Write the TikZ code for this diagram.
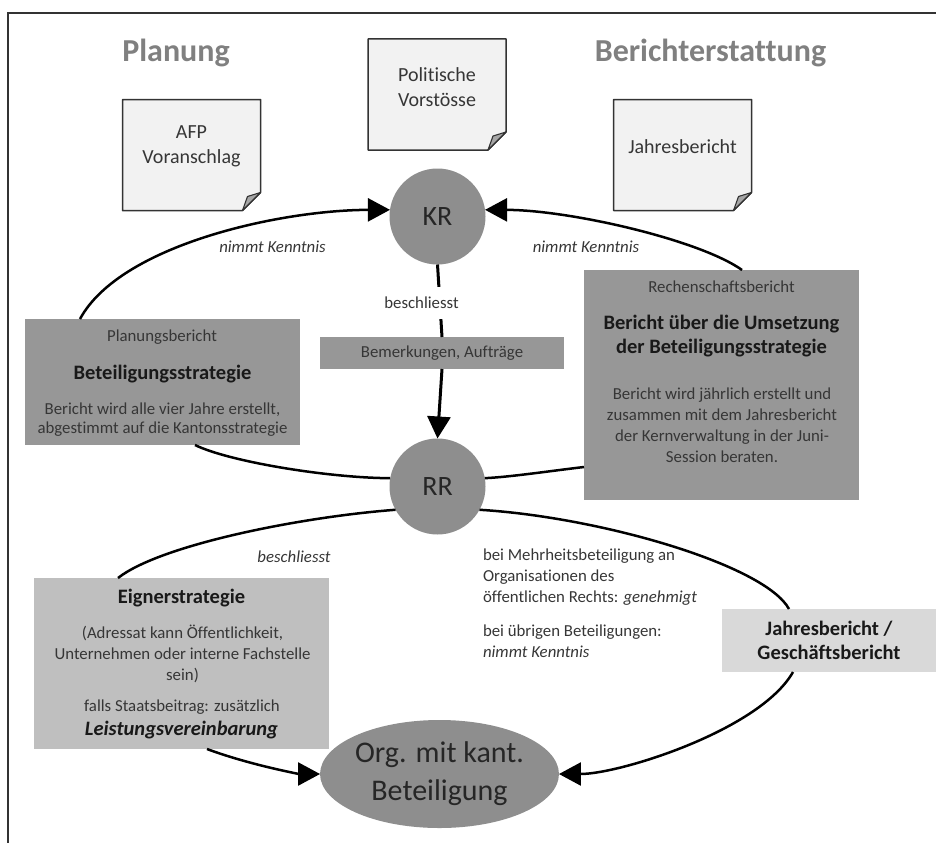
\documentclass[tikz,border=0pt]{standalone}
\usepackage{fontspec}
\setmainfont{Carlito}[Ligatures=NoCommon]
\usetikzlibrary{arrows.meta,shapes.geometric}
\definecolor{circgray}{HTML}{8E8E8E}
\definecolor{boxgray}{HTML}{979797}
\definecolor{eigngray}{HTML}{BFBFBF}
\definecolor{jbgray}{HTML}{D9D9D9}
\definecolor{titlegray}{HTML}{808080}
\definecolor{txtgray}{HTML}{363636}
\definecolor{docfill}{HTML}{F2F2F2}
\definecolor{foldgray}{HTML}{A6A6A6}
\newcommand{\docoutline}[1]{%
  \draw[docline] (#1.north west) -- (#1.north east) -- ([yshift=18pt]#1.south east)
     -- ([xshift=-18pt]#1.south east) -- (#1.south west) -- cycle;
  \draw[foldpart] ([yshift=18pt]#1.south east) -- ([xshift=-18pt]#1.south east)
     -- ([xshift=-13pt,yshift=14pt]#1.south east) -- cycle;}
\begin{document}
\begin{tikzpicture}[x=1pt,y=-1pt,
  every node/.style={inner sep=0pt,outer sep=0pt},
  title/.style={font=\fontsize{32}{38}\selectfont\bfseries,text=titlegray},
  docarea/.style={rectangle,minimum width=138pt,minimum height=111pt},
  doctext/.style={align=center,font=\fontsize{20}{25}\selectfont,text=txtgray},
  docline/.style={draw=black!80,line width=1.5pt,fill=docfill,line join=round},
  foldpart/.style={draw=black!80,line width=1.1pt,fill=foldgray,line join=round},
  circ/.style={circle,fill=circgray,minimum size=96pt,font=\fontsize{28}{32}\selectfont,text=black!85},
  midbox/.style={rectangle,fill=boxgray},
  small/.style={font=\fontsize{16.8}{21}\selectfont,text=txtgray,align=center},
  smallit/.style={font=\fontsize{16.8}{21}\selectfont\itshape,text=txtgray},
  heading/.style={font=\fontsize{20.5}{24}\selectfont\bfseries,text=black!90,align=center},
  conn/.style={line width=2.5pt,black},
  bigtip/.style={-{Triangle[length=22pt,width=23pt]}},
  frameline/.style={draw=black!80,line width=1.5pt}]
\useasboundingbox (0,0) rectangle (936,843);
% frame
\coordinate (ftl) at (8,13);
\coordinate (ftr) at (936,13);
\coordinate (fbl) at (8,843);
\draw[frameline] (ftr) -- (ftl) -- (fbl);
% titles
\node[title] (tplan) at (176,53) {Planung};
\node[title] (tber) at (710.5,53) {Berichterstattung};
% documents
\node[docarea] (pol) at (437,94.5) {};
\node[docarea] (afp) at (191.5,155) {};
\node[docarea] (jbd) at (682.5,155) {};
\docoutline{pol}
\docoutline{afp}
\docoutline{jbd}
\node[doctext] (polt) at (437,87.5) {Politische\\Vorstösse};
\node[doctext] (afpt) at (191.5,146.5) {AFP\\Voranschlag};
\node[doctext] (jbdt) at (682.5,147) {Jahresbericht};
% circles
\node[circ] (kr) at (437.5,216.5) {KR};
\node[circ] (rr) at (437.5,486.5) {RR};
\node[ellipse,fill=circgray,minimum width=204pt,minimum height=108pt,align=center,
      font=\fontsize{30}{38}\selectfont,text=black!85] (org) at (439.5,774) {Org. mit kant.\\Beteiligung};
% boxes
\node[midbox,minimum width=244pt,minimum height=32pt,font=\fontsize{16.8}{21}\selectfont,text=txtgray] (bem) at (442,353) {Bemerkungen, Aufträge};
\node[midbox,minimum width=275pt,minimum height=126pt] (plan) at (162.5,382) {};
\node[small] (planl) at (162,337) {Planungsbericht};
\node[heading] (planh) at (162.5,374) {Beteiligungsstrategie};
\node[small,font=\fontsize{16.8}{19.5}\selectfont] (planb) at (162.5,419.5) {Bericht wird alle vier Jahre erstellt,\\abgestimmt auf die Kantonsstrategie};
\node[midbox,minimum width=275pt,minimum height=230pt] (rech) at (721.5,385) {};
\node[small] (rechl) at (721.5,287) {Rechenschaftsbericht};
\node[heading] (rechh) at (721.5,336) {Bericht über die Umsetzung\\der Beteiligungsstrategie};
\node[small] (rechb) at (722,425) {Bericht wird jährlich erstellt und\\zusammen mit dem Jahresbericht\\der Kernverwaltung in der Juni-\\Session beraten.};
\node[fill=eigngray,minimum width=295pt,minimum height=171pt] (eig) at (181.5,663.5) {};
\node[heading] (eigh) at (181.5,598) {Eignerstrategie};
\node[small] (eigb) at (182.5,654) {(Adressat kann Öffentlichkeit,\\Unternehmen oder interne Fachstelle\\sein)};
\node[small] (eigc) at (182,707) {falls Staatsbeitrag: zusätzlich};
\node[heading,font=\fontsize{20.5}{24}\selectfont\bfseries\itshape] (eigl) at (181.5,730) {Leistungsvereinbarung};
\node[fill=jbgray,minimum width=214pt,minimum height=63pt,heading] (jb) at (829,640.5) {Jahresbericht /\\Geschäftsbericht};
% free texts
\node[smallit] (nkl) at (272.5,247) {nimmt Kenntnis};
\node[smallit] (nkr) at (586,247) {nimmt Kenntnis};
\node[smallit] (besl) at (294,557) {beschliesst};
\node[small,align=left,anchor=west] (mehr) at (483,577) {bei Mehrheitsbeteiligung an\\Organisationen des\\öffentlichen Rechts: \textit{genehmigt}};
\node[small,align=left,anchor=west] (uebr) at (483,641.5) {bei übrigen Beteiligungen:\\\textit{nimmt Kenntnis}};
% connectors
\draw[conn,bigtip] ([xshift=55pt]plan.north west) .. controls (120,245) and (280,210) .. (kr.172);
\draw[conn,bigtip] ([xshift=158pt]rech.north west) .. controls (700,240) and (570,210) .. (kr.8);
\draw[conn] ([xshift=170pt]plan.south west) .. controls (230,462) and (330,478) .. (rr.170);
\draw[conn] ([yshift=33pt]rech.south west) .. controls (550,471) and (510,477) .. (rr.10);
\draw[conn] (rr.209) .. controls (300,517) and (160,545) .. ([xshift=84pt]eig.north west);
\draw[conn] (rr.331) .. controls (600,517) and (765,565) .. ([xshift=67pt]jb.north west);
\draw[conn,bigtip] ([xshift=173pt]eig.south west) .. controls (250,765) and (300,774) .. (org.west);
\draw[conn,bigtip] ([xshift=71pt]jb.south west) .. controls (760,730) and (620,774) .. (org.east);
\draw[conn,line width=3pt] (kr.south) -- (bem.north);
\draw[conn,line width=3pt,bigtip] (bem.south) -- (rr.north);
\node[fill=white,inner xsep=3pt,inner ysep=10pt,font=\fontsize{16.8}{21}\selectfont,text=txtgray] (besc) at (421.5,303) {beschliesst};
\end{tikzpicture}
\end{document}
